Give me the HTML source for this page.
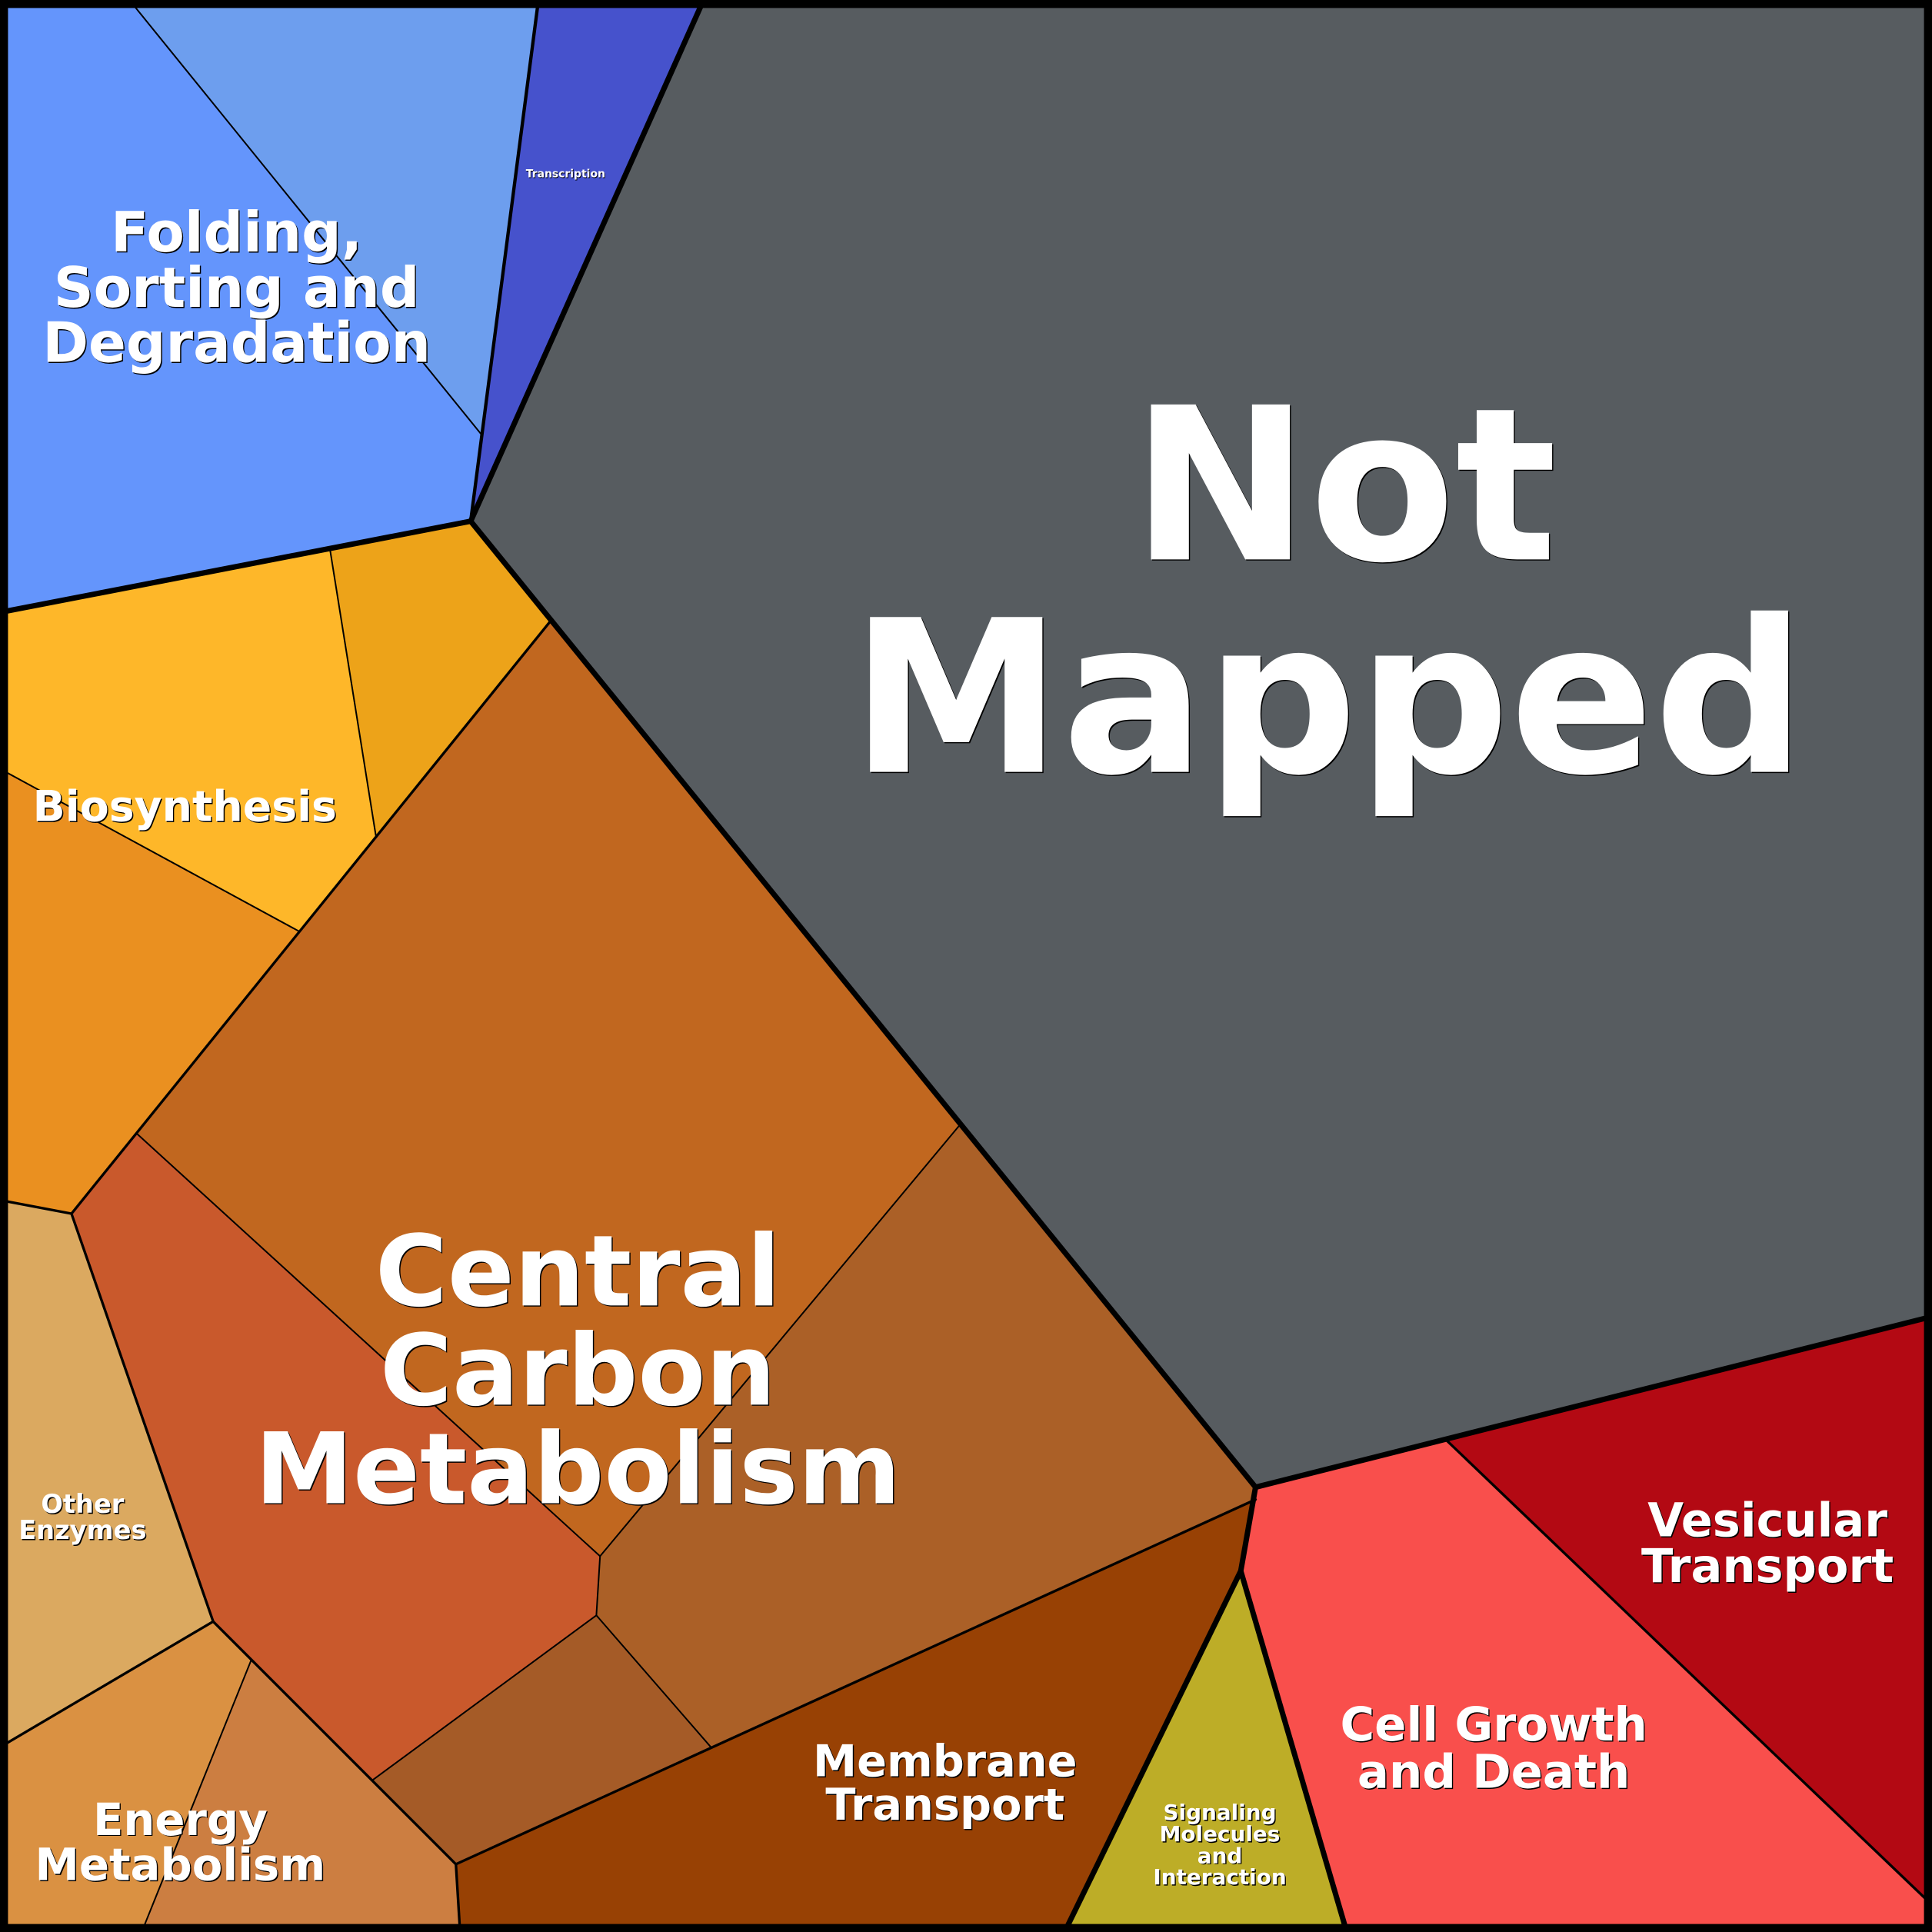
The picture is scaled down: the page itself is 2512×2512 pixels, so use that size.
<!DOCTYPE html>
<html>
<head>
<meta charset="utf-8">
<style>
  html, body { margin: 0; padding: 0; background: #000; }
  svg { display: block; }
  text { font-family: "DejaVu Sans", "Liberation Sans", sans-serif; font-weight: bold; text-anchor: middle; }
  .sh { fill: #000; }
  .fg { fill: #fff; }
</style>
</head>
<body>
<svg xmlns="http://www.w3.org/2000/svg" width="2512" height="2512" viewBox="0 0 1568 1568">
  <!-- regions -->
  <polygon fill="#6495fc" points="0,0 105,0 391,353 382,423 0,497"/>
  <polygon fill="#6d9eee" points="105,0 437,0 391,353"/>
  <polygon fill="#4652cc" points="437,0 571,0 382,423 391,353"/>
  <polygon fill="#575c60" points="571,0 1568,0 1568,1068.5 1019,1207 382,423"/>
  <polygon fill="#feb729" points="0,497 268,447 305,678 243,756 0,624"/>
  <polygon fill="#eda319" points="268,447 382,423 446,505 305,678"/>
  <polygon fill="#ea9020" points="0,624 243,756 58,985 0,974"/>
  <polygon fill="#c1671f" points="446,505 779,913 487,1263 111,920"/>
  <polygon fill="#ab6027" points="779,913 1019,1207 1019,1217 577,1418 484,1311 487,1263"/>
  <polygon fill="#c9592c" points="111,920 487,1263 484,1311 302,1445 173,1316 58,985"/>
  <polygon fill="#a55b27" points="484,1311 577,1418 370,1513 302,1445"/>
  <polygon fill="#dba960" points="0,974 58,985 173,1316 0,1418"/>
  <polygon fill="#da9142" points="0,1418 173,1316 204,1347 115,1568 0,1568"/>
  <polygon fill="#cc7e41" points="204,1347 370,1513 373.4,1568 115,1568"/>
  <polygon fill="#984104" points="370,1513 1019,1217 1007,1275 864,1568 373.4,1568"/>
  <polygon fill="#bdad27" points="1007,1275 1093,1568 864,1568"/>
  <polygon fill="#f94f4c" points="1019,1207 1173,1168 1568,1546 1568,1568 1093,1568 1007,1275"/>
  <polygon fill="#b30913" points="1173,1168 1568,1068.5 1568,1546"/>

  <!-- thin lines -->
  <g stroke="#000" stroke-width="1.25" fill="none" stroke-linecap="round">
    <line x1="105" y1="0" x2="391" y2="353"/>
    <line x1="268" y1="447" x2="305" y2="678"/>
    <line x1="0" y1="624" x2="243" y2="756"/>
    <line x1="204" y1="1347" x2="115" y2="1568"/>
    <line x1="111" y1="920" x2="487" y2="1263"/>
    <line x1="487" y1="1263" x2="779" y2="913"/>
    <line x1="487" y1="1263" x2="484" y2="1311"/>
    <line x1="484" y1="1311" x2="302" y2="1445"/>
    <line x1="484" y1="1311" x2="577" y2="1418"/>
  </g>
  <!-- medium lines -->
  <g stroke="#000" stroke-width="2.1" fill="none" stroke-linecap="round" stroke-linejoin="round">
    <line x1="446" y1="505" x2="58" y2="985"/>
    <line x1="0" y1="974" x2="58" y2="985"/>
    <polyline points="58,985 173,1316 370,1513 373.4,1568"/>
    <line x1="173" y1="1316" x2="0" y2="1418"/>
    <line x1="370" y1="1513" x2="1019" y2="1217"/>
    <line x1="1173" y1="1168" x2="1568" y2="1546"/>
  </g>
  <g stroke="#000" stroke-width="2.7" fill="none" stroke-linecap="round">
    <line x1="437" y1="0" x2="382" y2="423"/>
  </g>
  <!-- thick lines -->
  <g stroke="#000" stroke-width="4.4" fill="none" stroke-linecap="round" stroke-linejoin="round">
    <polyline points="571,0 382,423 1019,1207 1568,1068.5"/>
    <line x1="0" y1="497" x2="382" y2="423"/>
    <polyline points="1019,1207 1007,1275 864,1568"/>
    <line x1="1007" y1="1275" x2="1093" y2="1568"/>
  </g>
  <!-- outer frame -->
  <rect x="3.25" y="3.25" width="1561.5" height="1561.5" fill="none" stroke="#000" stroke-width="6.5"/>

  <!-- labels: shadow -->
  <g class="sh" transform="translate(0.9,0.9)">
    <text x="1091" y="454" font-size="172.5">Not</text>
    <text x="1078" y="626.5" font-size="172.5">Mapped</text>
    <text x="469" y="1059.5" font-size="80">Central</text>
    <text x="469" y="1140" font-size="80">Carbon</text>
    <text x="469" y="1220" font-size="80">Metabolism</text>
    <text x="192" y="204" font-size="45">Folding,</text>
    <text x="192" y="249" font-size="45">Sorting and</text>
    <text x="192" y="293.6" font-size="45">Degradation</text>
    <text x="150" y="666.3" font-size="34.5">Biosynthesis</text>
    <text x="67" y="1227.7" font-size="21">Other</text>
    <text x="67" y="1249" font-size="21">Enzymes</text>
    <text x="146.3" y="1489.2" font-size="36">Energy</text>
    <text x="146.3" y="1526" font-size="36">Metabolism</text>
    <text x="767" y="1441.5" font-size="35.8">Membrane</text>
    <text x="767" y="1477" font-size="35.8">Transport</text>
    <text x="990" y="1477" font-size="17.4">Signaling</text>
    <text x="990" y="1494.3" font-size="17.4">Molecules</text>
    <text x="990" y="1512" font-size="17.4">and</text>
    <text x="990" y="1529.4" font-size="17.4">Interaction</text>
    <text x="1212.3" y="1412.7" font-size="38">Cell Growth</text>
    <text x="1212.3" y="1451" font-size="38">and Death</text>
    <text x="1434.5" y="1247" font-size="37.8">Vesicular</text>
    <text x="1434.5" y="1284" font-size="37.8">Transport</text>
  </g>
  <text class="sh" x="459.5" y="144.5" font-size="8.7">Transcription</text>
  <!-- labels: white -->
  <g class="fg">
    <text x="1091" y="454" font-size="172.5">Not</text>
    <text x="1078" y="626.5" font-size="172.5">Mapped</text>
    <text x="469" y="1059.5" font-size="80">Central</text>
    <text x="469" y="1140" font-size="80">Carbon</text>
    <text x="469" y="1220" font-size="80">Metabolism</text>
    <text x="192" y="204" font-size="45">Folding,</text>
    <text x="192" y="249" font-size="45">Sorting and</text>
    <text x="192" y="293.6" font-size="45">Degradation</text>
    <text x="150" y="666.3" font-size="34.5">Biosynthesis</text>
    <text x="67" y="1227.7" font-size="21">Other</text>
    <text x="67" y="1249" font-size="21">Enzymes</text>
    <text x="146.3" y="1489.2" font-size="36">Energy</text>
    <text x="146.3" y="1526" font-size="36">Metabolism</text>
    <text x="767" y="1441.5" font-size="35.8">Membrane</text>
    <text x="767" y="1477" font-size="35.8">Transport</text>
    <text x="990" y="1477" font-size="17.4">Signaling</text>
    <text x="990" y="1494.3" font-size="17.4">Molecules</text>
    <text x="990" y="1512" font-size="17.4">and</text>
    <text x="990" y="1529.4" font-size="17.4">Interaction</text>
    <text x="1212.3" y="1412.7" font-size="38">Cell Growth</text>
    <text x="1212.3" y="1451" font-size="38">and Death</text>
    <text x="1434.5" y="1247" font-size="37.8">Vesicular</text>
    <text x="1434.5" y="1284" font-size="37.8">Transport</text>
    <text x="459" y="144" font-size="8.7">Transcription</text>
  </g>
</svg>
</body>
</html>
